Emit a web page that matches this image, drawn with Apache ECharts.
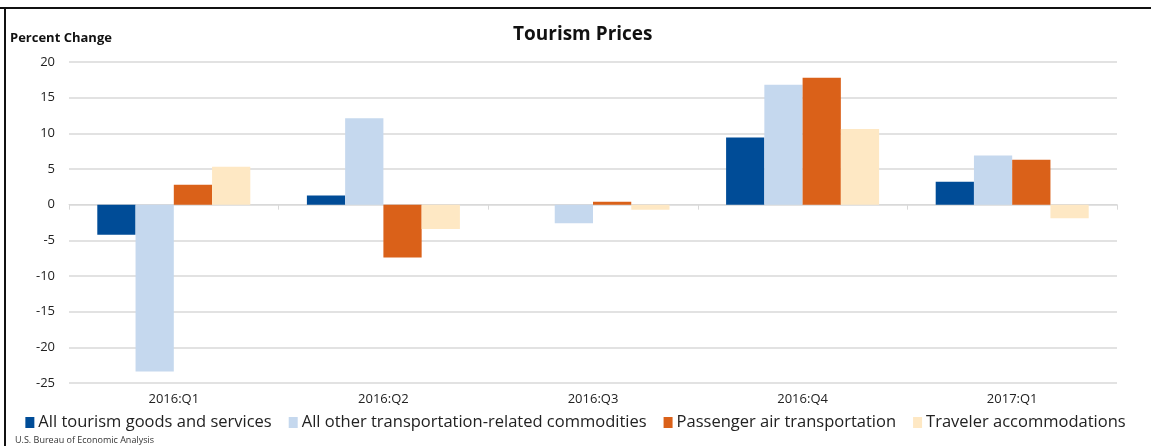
<!DOCTYPE html>
<html>
<head>
<meta charset="utf-8">
<script src="https://cdn.jsdelivr.net/npm/echarts@6/dist/echarts.min.js"></script>
<style>
    html, body { margin: 0; padding: 0; background: #ffffff; }
    #main { width: 1151px; height: 446px; }
</style>
</head>
<body>
<div id="main"></div>
<script>
    // 季度
    var quarters = ['2016:Q1', '2016:Q2', '2016:Q3', '2016:Q4', '2017:Q1'];
    var seriesNames = [
        'All tourism goods and services',
        'All other transportation-related commodities',
        'Passenger air transportation',
        'Traveler accommodations'
    ];
    var allTourism = [-4.2, 1.3, 0.0, 9.4, 3.2];
    var otherTransport = [-23.4, 12.1, -2.6, 16.8, 6.9];
    var airTransport = [2.8, -7.4, 0.4, 17.8, 6.3];
    var accommodations = [5.3, -3.4, -0.7, 10.6, -1.9];
    var colors = ['#004C97', '#C5D8EE', '#DA6119', '#FEE8C4'];

    var font = '"Open Sans", "Noto Sans", sans-serif';
    var values = [allTourism, otherTransport, airTransport, accommodations];

    var chart = echarts.init(document.getElementById('main'));
    chart.setOption({
        animation: false,
        textStyle: { fontFamily: font },
        title: {
            text: 'Tourism Prices',
            left: 508,
            top: 20,
            textStyle: { fontSize: 19, fontWeight: 'bold', color: '#111', fontFamily: font }
        },
        graphic: [
            // 外框
            { type: 'line', shape: { x1: 0, y1: 8, x2: 1151, y2: 8 }, style: { stroke: '#111', lineWidth: 2 } },
            { type: 'line', shape: { x1: 5, y1: 8, x2: 5, y2: 446 }, style: { stroke: '#111', lineWidth: 2 } },
            { type: 'text', left: 10, top: 32, style: { text: 'Percent Change', font: 'bold 13px ' + font, fill: '#111' } },
            { type: 'text', left: 15, top: 436, style: { text: 'U.S. Bureau of Economic Analysis', font: '9px ' + font, fill: '#333' } }
        ],
        legend: {
            bottom: 10,
            left: 'center',
            itemWidth: 9,
            itemHeight: 11,
            itemGap: 17,
            icon: 'rect',
            textStyle: { fontSize: 16.5, color: '#222', padding: [0, 0, 0, -1] },
            data: seriesNames
        },
        grid: { left: 69, right: 34, top: 62, bottom: 63 },
        xAxis: {
            type: 'category',
            data: quarters,
            position: 'bottom',
            axisLine: { onZero: true, lineStyle: { color: '#d9d9d9' } },
            axisTick: { show: true, length: 5, lineStyle: { color: '#d9d9d9' } },
            axisLabel: { show: false }
        },
        yAxis: {
            type: 'value',
            min: -25,
            max: 20,
            interval: 5,
            axisLine: { show: false },
            axisTick: { show: false },
            axisLabel: { fontSize: 13, color: '#222', margin: 14 },
            splitLine: { lineStyle: { color: '#d9d9d9', width: 1.5 } }
        },
        series: seriesNames.map(function (name, i) {
            return {
                name: name,
                type: 'bar',
                data: values[i],
                barGap: '0%',
                barCategoryGap: '27%',
                itemStyle: { color: colors[i] }
            };
        })
    });

    // 横轴标签放在图底部
    chart.setOption({
        graphic: chart.getOption().graphic[0].elements.concat(quarters.map(function (q, i) {
            var p = chart.convertToPixel({ xAxisIndex: 0, yAxisIndex: 0 }, [i, -25]);
            return { type: 'text', x: p[0], y: p[1] + 10, style: { text: q, font: '13px ' + font, fill: '#222', align: 'center' } };
        }))
    });
</script>
</body>
</html>
